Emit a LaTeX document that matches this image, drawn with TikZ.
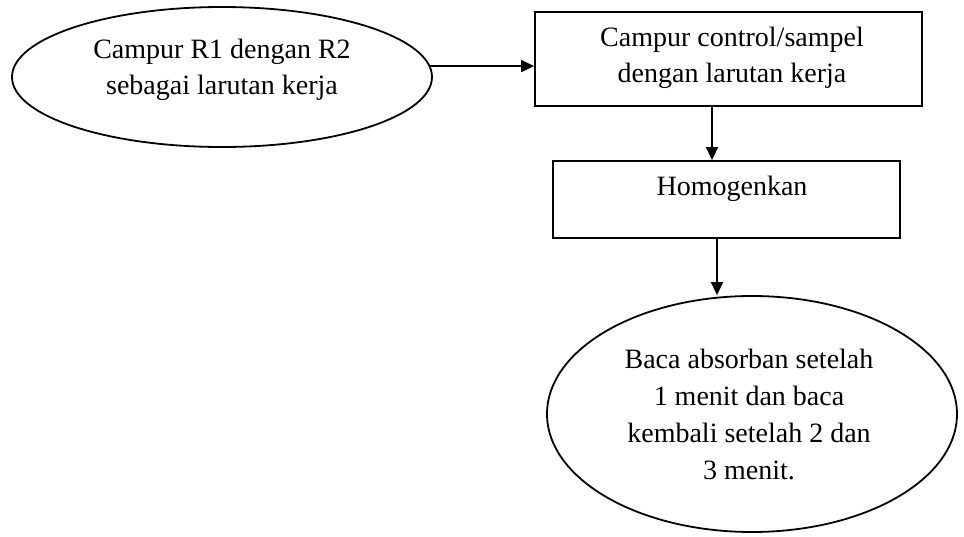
\documentclass[tikz,border=0pt]{standalone}
\usepackage{fontspec}
\setmainfont{Liberation Serif}
\usetikzlibrary{shapes.geometric,arrows.meta}
\tikzset{
  ln/.style={line width=1.8pt, draw=black},
  ovalbox/.style={ln, ellipse, inner sep=0pt},
  rectbox/.style={ln, rectangle, inner sep=0pt},
  lbl/.style={align=center, font=\fontsize{28}{36}\selectfont, inner sep=0pt},
  arr/.style={line width=1.6pt, -{Triangle[length=13pt,width=12pt]}}
}
\begin{document}
\begin{tikzpicture}[x=1pt,y=-1pt]
\useasboundingbox (0,0) rectangle (964,536);
% nodes
\node[ovalbox, minimum width=420pt, minimum height=140pt] (e1) at (222,77) {};
\node[lbl] (e1t) at (222,70) {Campur R1 dengan R2\\sebagai larutan kerja};
\node[rectbox, minimum width=387pt, minimum height=94pt] (r1) at (728.5,59) {};
\node[lbl] (r1t) at (732,58) {Campur control/sampel\\dengan larutan kerja};
\node[rectbox, minimum width=347pt, minimum height=77pt] (r2) at (726.5,199.5) {};
\node[lbl] (r2t) at (732,189) {Homogenkan};
\node[ovalbox, minimum width=410pt, minimum height=236pt] (e2) at (752,414) {};
\node[lbl, font=\fontsize{28}{37}\selectfont] (e2t) at (749,414) {Baca absorban setelah\\1 menit dan baca\\kembali setelah 2 dan\\3 menit.};
% connectors
\draw[arr] (e1.3.9) -- (e1.3.9 -| r1.west);
\draw[arr] ([xshift=-16.5pt]r1.south) -- ([xshift=-16.5pt]r1.south |- r2.north);
\draw[arr] ([xshift=-9.5pt]r2.south) -- ([xshift=-9.5pt]r2.south |- e2.north);
\end{tikzpicture}
\end{document}
